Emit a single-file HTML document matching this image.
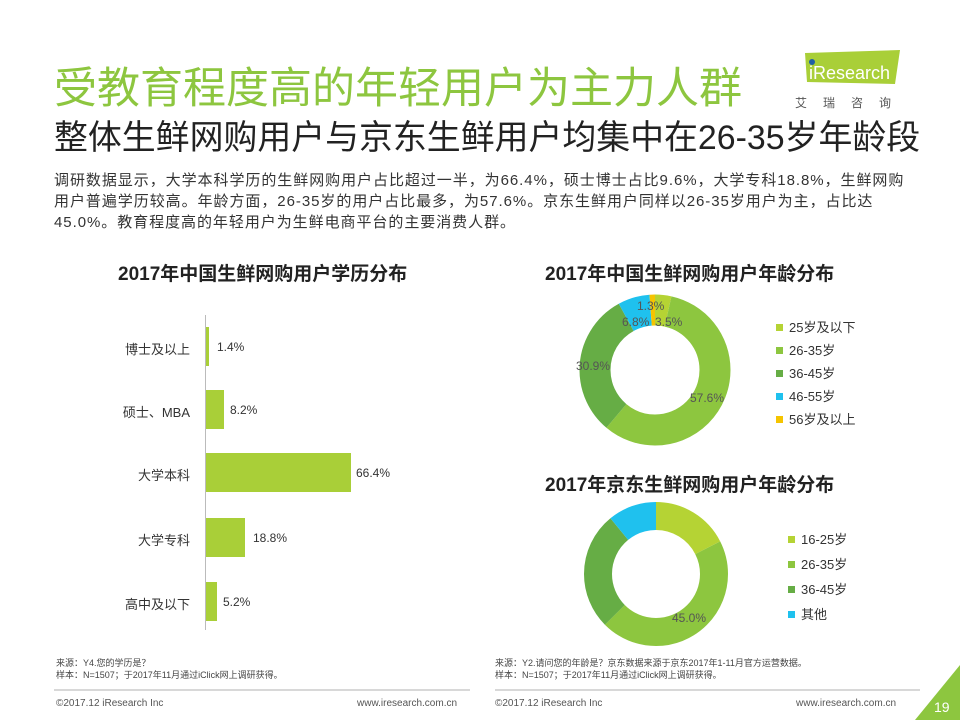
<!DOCTYPE html>
<html><head><meta charset="utf-8"><style>
body{margin:0;background:#fff}
#p{position:relative;width:960px;height:720px;overflow:hidden;font-family:"Liberation Sans","Noto Sans CJK SC",sans-serif;color:#333}
.a{position:absolute;white-space:nowrap}
.bar{position:absolute;left:206px;background:#a9cf38;height:39px}
.bl{position:absolute;font-size:12px;color:#333}
.bn{position:absolute;font-size:13px;color:#333;width:90px;text-align:right;left:100px}
.lg{position:absolute;font-size:13px;color:#333}
.lg i{display:inline-block;width:7px;height:7px;margin-right:6px;vertical-align:1px}
</style></head><body><div id="p">
<div class="a" style="left:54px;top:54px;font-size:43px;color:#8dc63f">受教育程度高的年轻用户为主力人群</div>
<div class="a" style="left:54px;top:110px;font-size:33.9px;color:#222">整体生鲜网购用户与京东生鲜用户均集中在26-35岁年龄段</div>
<div class="a" style="left:54px;top:170px;font-size:15px;line-height:21px;letter-spacing:0.95px;color:#333">调研数据显示，大学本科学历的生鲜网购用户占比超过一半，为66.4%，硕士博士占比9.6%，大学专科18.8%，生鲜网购<br>用户普遍学历较高。年龄方面，26-35岁的用户占比最多，为57.6%。京东生鲜用户同样以26-35岁用户为主，占比达<br>45.0%。教育程度高的年轻用户为生鲜电商平台的主要消费人群。</div>
<svg class="a" style="left:795px;top:48px" width="110" height="40"><polygon points="10,5 105,2 100,36 12,34" fill="#a9cf38"/><circle cx="17" cy="14" r="3" fill="#1f5fa6"/><text x="14" y="31" font-size="18" fill="#fff" font-family="Liberation Sans">iResearch</text></svg>
<div class="a" style="left:795px;top:94px;font-size:12px;letter-spacing:16px;color:#555">艾瑞咨询</div>
<div class="a" style="left:118px;top:259px;font-size:19px;font-weight:bold;color:#222">2017年中国生鲜网购用户学历分布</div>
<div class="a" style="left:545px;top:259px;font-size:19px;font-weight:bold;color:#222">2017年中国生鲜网购用户年龄分布</div>
<div class="a" style="left:545px;top:470px;font-size:19px;font-weight:bold;color:#222">2017年京东生鲜网购用户年龄分布</div>
<div class="a" style="left:205px;top:315px;width:1px;height:315px;background:#bbb"></div>
<div class="bar" style="top:327px;width:3px"></div><div class="bl" style="left:217px;top:340px">1.4%</div><div class="bn" style="top:339px">博士及以上</div>
<div class="bar" style="top:390px;width:18px"></div><div class="bl" style="left:230px;top:403px">8.2%</div><div class="bn" style="top:402px">硕士、MBA</div>
<div class="bar" style="top:453px;width:145px"></div><div class="bl" style="left:356px;top:466px">66.4%</div><div class="bn" style="top:465px">大学本科</div>
<div class="bar" style="top:518px;width:39px"></div><div class="bl" style="left:253px;top:531px">18.8%</div><div class="bn" style="top:530px">大学专科</div>
<div class="bar" style="top:582px;width:11px"></div><div class="bl" style="left:223px;top:595px">5.2%</div><div class="bn" style="top:594px">高中及以下</div>
<svg class="a" style="left:0;top:0" width="960" height="720">
<g transform="rotate(-90 655 370)" fill="none" stroke-width="31">
<circle cx="655" cy="370" r="60" stroke="#b5d334" stroke-dasharray="13.19 400" stroke-dashoffset="0"/>
<circle cx="655" cy="370" r="60" stroke="#8dc63f" stroke-dasharray="217.15 400" stroke-dashoffset="-13.19"/>
<circle cx="655" cy="370" r="60" stroke="#66ad45" stroke-dasharray="116.49 400" stroke-dashoffset="-230.34"/>
<circle cx="655" cy="370" r="60" stroke="#1fc1ee" stroke-dasharray="25.64 400" stroke-dashoffset="-346.83"/>
<circle cx="655" cy="370" r="60" stroke="#f5c400" stroke-dasharray="4.6 400" stroke-dashoffset="-372.47"/>
</g>
<g transform="rotate(-90 656 574)" fill="none" stroke-width="28">
<circle cx="656" cy="574" r="58" stroke="#b5d334" stroke-dasharray="63.77 400" stroke-dashoffset="0"/>
<circle cx="656" cy="574" r="58" stroke="#8dc63f" stroke-dasharray="163.99 400" stroke-dashoffset="-63.77"/>
<circle cx="656" cy="574" r="58" stroke="#66ad45" stroke-dasharray="96.57 400" stroke-dashoffset="-227.76"/>
<circle cx="656" cy="574" r="58" stroke="#1fc1ee" stroke-dasharray="40.09 400" stroke-dashoffset="-324.33"/>
</g>
<g font-size="12" fill="#555" font-family="Liberation Sans">
<text x="637" y="310">1.3%</text><text x="622" y="326">6.8%</text><text x="655" y="326">3.5%</text>
<text x="576" y="370">30.9%</text><text x="690" y="402">57.6%</text><text x="672" y="622">45.0%</text>
</g>
<polygon points="960,665 960,720 915,720" fill="#8dc63f"/>
<text x="934" y="712" font-size="14" fill="#fff" font-family="Liberation Sans">19</text>
<line x1="54" y1="690" x2="470" y2="690" stroke="#999" stroke-width="0.7"/>
<line x1="495" y1="690" x2="920" y2="690" stroke="#999" stroke-width="0.7"/>
</svg>
<div class="lg" style="left:776px;top:317px"><i style="background:#b5d334"></i>25岁及以下</div>
<div class="lg" style="left:776px;top:340px"><i style="background:#8dc63f"></i>26-35岁</div>
<div class="lg" style="left:776px;top:363px"><i style="background:#66ad45"></i>36-45岁</div>
<div class="lg" style="left:776px;top:386px"><i style="background:#1fc1ee"></i>46-55岁</div>
<div class="lg" style="left:776px;top:409px"><i style="background:#f5c400"></i>56岁及以上</div>
<div class="lg" style="left:788px;top:529px"><i style="background:#b5d334"></i>16-25岁</div>
<div class="lg" style="left:788px;top:554px"><i style="background:#8dc63f"></i>26-35岁</div>
<div class="lg" style="left:788px;top:579px"><i style="background:#66ad45"></i>36-45岁</div>
<div class="lg" style="left:788px;top:604px"><i style="background:#1fc1ee"></i>其他</div>
<div class="a" style="left:56px;top:657px;font-size:9px;line-height:12px;color:#444">来源：Y4.您的学历是？<br>样本：N=1507；于2017年11月通过iClick网上调研获得。</div>
<div class="a" style="left:495px;top:657px;font-size:9px;line-height:12px;color:#444">来源：Y2.请问您的年龄是？京东数据来源于京东2017年1-11月官方运营数据。<br>样本：N=1507；于2017年11月通过iClick网上调研获得。</div>
<div class="a" style="left:56px;top:698px;font-size:10px;color:#555">©2017.12 iResearch Inc</div>
<div class="a" style="left:357px;top:698px;font-size:10px;color:#555">www.iresearch.com.cn</div>
<div class="a" style="left:495px;top:698px;font-size:10px;color:#555">©2017.12 iResearch Inc</div>
<div class="a" style="left:796px;top:698px;font-size:10px;color:#555">www.iresearch.com.cn</div>
</div></body></html>
